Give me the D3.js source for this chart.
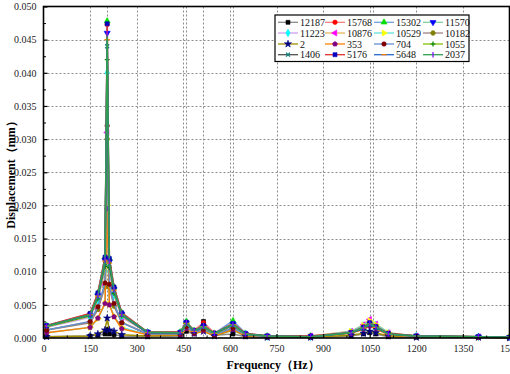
<!DOCTYPE html>
<html>
<head>
<meta charset="utf-8">
<script src="https://cdn.jsdelivr.net/npm/d3@7"></script>
<style>
  body { margin: 0; background: #fff; }
  text { font-family: "Liberation Serif", "Times New Roman", serif; }
</style>
</head>
<body>
<svg width="510" height="374"></svg>
<script>
// frequencies (Hz) shared by every series
var freqs = [10, 150, 175, 198, 205, 212, 227, 252, 335, 440, 460, 485, 515, 550, 610, 650, 720, 860, 990, 1030, 1050, 1070, 1110, 1200, 1400, 1500];

// series names (legend order)
var names = ["12187", "15768", "15302", "11570", "11223", "10876", "10529", "10182",
             "2", "353", "704", "1055", "1406", "5176", "5648", "2037"];

// displacement (mm)
var s12187 = [0.0002,0.0003,0.0004,0.0006,0.0013,0.0006,0.0005,0.0003,0.0002,0.0003,0.0010,0.0006,0.0025,0.0004,0.0006,0.0002,0.0001,0.0001,0.0003,0.0006,0.0008,0.0006,0.0002,0.0001,0.0001,0.0000];
var s15768 = [0.0018,0.0037,0.0066,0.0120,0.0473,0.0118,0.0076,0.0037,0.0009,0.0008,0.0022,0.0012,0.0023,0.0008,0.0020,0.0006,0.0003,0.0003,0.0009,0.0016,0.0022,0.0017,0.0006,0.0003,0.0002,0.0001];
var s15302 = [0.0019,0.0036,0.0068,0.0122,0.0478,0.0120,0.0077,0.0038,0.0009,0.0009,0.0025,0.0011,0.0018,0.0007,0.0026,0.0007,0.0003,0.0003,0.0008,0.0015,0.0021,0.0016,0.0007,0.0003,0.0002,0.0001];
var s11570 = [0.0018,0.0035,0.0064,0.0117,0.0460,0.0115,0.0074,0.0036,0.0009,0.0008,0.0023,0.0010,0.0017,0.0007,0.0021,0.0006,0.0003,0.0002,0.0008,0.0014,0.0020,0.0015,0.0006,0.0003,0.0002,0.0001];
var s11223 = [0.0016,0.0031,0.0056,0.0102,0.0400,0.0100,0.0064,0.0031,0.0008,0.0007,0.0021,0.0010,0.0016,0.0006,0.0019,0.0006,0.0002,0.0002,0.0009,0.0019,0.0026,0.0020,0.0007,0.0003,0.0002,0.0001];
var s10876 = [0.0012,0.0024,0.0044,0.0080,0.0310,0.0078,0.0050,0.0024,0.0006,0.0006,0.0018,0.0009,0.0014,0.0005,0.0016,0.0005,0.0002,0.0003,0.0010,0.0020,0.0028,0.0021,0.0008,0.0003,0.0002,0.0001];
var s10529 = [0.0008,0.0016,0.0029,0.0052,0.0200,0.0051,0.0033,0.0016,0.0005,0.0005,0.0015,0.0008,0.0012,0.0005,0.0014,0.0005,0.0002,0.0002,0.0010,0.0019,0.0026,0.0020,0.0008,0.0002,0.0001,0.0001];
var s10182 = [0.0012,0.0023,0.0043,0.0077,0.0300,0.0076,0.0048,0.0023,0.0006,0.0006,0.0017,0.0008,0.0013,0.0005,0.0015,0.0005,0.0002,0.0002,0.0009,0.0017,0.0023,0.0018,0.0007,0.0002,0.0001,0.0001];
var s2     = [0.0002,0.0003,0.0006,0.0012,0.0030,0.0012,0.0010,0.0005,0.0003,0.0004,0.0016,0.0007,0.0010,0.0003,0.0012,0.0003,0.0001,0.0001,0.0004,0.0007,0.0010,0.0008,0.0003,0.0001,0.0001,0.0000];
var s353   = [0.0008,0.0016,0.0030,0.0052,0.0195,0.0050,0.0032,0.0014,0.0005,0.0005,0.0014,0.0007,0.0011,0.0004,0.0013,0.0004,0.0002,0.0002,0.0007,0.0013,0.0018,0.0014,0.0005,0.0002,0.0001,0.0001];
var s704   = [0.0012,0.0025,0.0047,0.0083,0.0320,0.0081,0.0052,0.0023,0.0006,0.0006,0.0017,0.0008,0.0013,0.0005,0.0015,0.0005,0.0002,0.0002,0.0008,0.0016,0.0022,0.0017,0.0006,0.0002,0.0001,0.0001];
var s1055  = [0.0017,0.0033,0.0059,0.0108,0.0420,0.0106,0.0067,0.0033,0.0008,0.0008,0.0021,0.0010,0.0016,0.0006,0.0019,0.0006,0.0003,0.0002,0.0008,0.0015,0.0021,0.0016,0.0006,0.0003,0.0002,0.0001];
var s1406  = [0.0018,0.0034,0.0062,0.0113,0.0440,0.0111,0.0071,0.0035,0.0008,0.0008,0.0022,0.0010,0.0017,0.0007,0.0020,0.0006,0.0003,0.0002,0.0008,0.0014,0.0020,0.0015,0.0006,0.0003,0.0002,0.0001];
var s5176  = [0.0019,0.0037,0.0068,0.0122,0.0474,0.0120,0.0077,0.0038,0.0009,0.0009,0.0024,0.0011,0.0019,0.0007,0.0022,0.0007,0.0003,0.0003,0.0008,0.0016,0.0023,0.0017,0.0007,0.0003,0.0002,0.0001];
var s5648  = [0.0018,0.0035,0.0063,0.0116,0.0450,0.0113,0.0072,0.0035,0.0008,0.0008,0.0022,0.0010,0.0017,0.0007,0.0020,0.0006,0.0003,0.0002,0.0008,0.0015,0.0021,0.0016,0.0006,0.0003,0.0002,0.0001];
var s2037  = [0.0018,0.0035,0.0064,0.0118,0.0459,0.0116,0.0073,0.0036,0.0009,0.0008,0.0023,0.0011,0.0018,0.0007,0.0021,0.0006,0.0003,0.0002,0.0008,0.0016,0.0022,0.0017,0.0006,0.0003,0.0002,0.0001];

var values = [s12187, s15768, s15302, s11570, s11223, s10876, s10529, s10182,
              s2, s353, s704, s1055, s1406, s5176, s5648, s2037];

// extra vertical reference lines (Hz)
var refLines = [205, 460, 515, 610, 1060];

var xTicks = [0, 150, 300, 450, 600, 750, 900, 1050, 1200, 1350, 1500];
var yTicks = [0, 0.005, 0.010, 0.015, 0.020, 0.025, 0.030, 0.035, 0.040, 0.045, 0.050];

// styling (Origin-like line / symbol colours)
var lineColors = ["#8a8a8a", "#f08080", "#70a0e0", "#80d0a0", "#d0a0f0", "#e8b460", "#60e0d8", "#a08080",
                  "#a09000", "#ff8000", "#6090d0", "#80c000", "#505050", "#e03030", "#2468d0", "#30a050"];
var markColors = ["#000000", "#ff0000", "#00e000", "#0000ff", "#00ffff", "#ff00ff", "#ffff00", "#808000",
                  "#000080", "#800080", "#800000", "#008000", "#008080", "#0000c0", "#ff8000", "#8000ff"];

function poly(n, rot) {
  return { draw: function(ctx, size) {
    var r = Math.sqrt(size / (n * 0.5 * Math.sin(2 * Math.PI / n)));
    for (var i = 0; i < n; i++) {
      var a = rot + i * 2 * Math.PI / n;
      if (i === 0) ctx.moveTo(r * Math.cos(a), r * Math.sin(a));
      else ctx.lineTo(r * Math.cos(a), r * Math.sin(a));
    }
    ctx.closePath();
  }};
}
var dash = { draw: function(ctx, size) { var r = Math.sqrt(size) / 2; ctx.moveTo(-r * 1.4, 0); ctx.lineTo(r * 1.4, 0); } };
var vbar = { draw: function(ctx, size) { var r = Math.sqrt(size) / 2; ctx.moveTo(0, -r * 1.4); ctx.lineTo(0, r * 1.4); } };
var cross = { draw: function(ctx, size) { var r = Math.sqrt(size) / 2; ctx.moveTo(-r, -r); ctx.lineTo(r, r); ctx.moveTo(-r, r); ctx.lineTo(r, -r); } };
var plus = { draw: function(ctx, size) { var r = Math.sqrt(size) / 2 * 1.2; ctx.moveTo(-r, 0); ctx.lineTo(r, 0); ctx.moveTo(0, -r); ctx.lineTo(0, r); } };

var shapes = [d3.symbolSquare, d3.symbolCircle, poly(3, -Math.PI / 2), poly(3, Math.PI / 2),
              d3.symbolDiamond, poly(3, Math.PI), poly(3, 0), poly(6, 0),
              d3.symbolStar, poly(5, -Math.PI / 2), d3.symbolCircle, plus,
              cross, d3.symbolSquare, dash, vbar];
var strokeOnly = [false, false, false, false, false, false, false, false,
                  false, false, false, true, true, false, true, true];

var svg = d3.select("svg");
var margin = {left: 43.5, right: 509.5, top: 6.5, bottom: 338};

var x = d3.scaleLinear().domain([0, 1500]).range([margin.left, margin.right]);
var y = d3.scaleLinear().domain([0, 0.05]).range([margin.bottom, margin.top]);

// grid
var grid = svg.append("g").attr("stroke", "#8c8c8c").attr("stroke-width", 1).attr("stroke-dasharray", "2,2");
grid.selectAll("line.h").data(yTicks.slice(1, -1)).enter().append("line")
  .attr("x1", margin.left).attr("x2", margin.right)
  .attr("y1", function(d){ return Math.round(y(d)) + 0.5 }).attr("y2", function(d){ return Math.round(y(d)) + 0.5 });
grid.selectAll("line.v").data(xTicks.slice(1, -1).concat(refLines)).enter().append("line")
  .attr("y1", margin.top).attr("y2", margin.bottom)
  .attr("x1", function(d){ return Math.round(x(d)) + 0.5 }).attr("x2", function(d){ return Math.round(x(d)) + 0.5 });

// series
var line = d3.line().x(function(d){ return x(d[0]) }).y(function(d){ return y(d[1]) });
values.forEach(function(vals, i) {
  var pts = freqs.map(function(f, j){ return [f, vals[j]] });
  var g = svg.append("g");
  g.append("path").datum(pts).attr("d", line)
    .attr("fill", "none").attr("stroke", lineColors[i]).attr("stroke-width", 1.5);
  g.selectAll("path.m").data(pts).enter().append("path")
    .attr("transform", function(d){ return "translate(" + x(d[0]) + "," + y(d[1]) + ")" })
    .attr("d", d3.symbol().type(shapes[i]).size(16))
    .attr("fill", strokeOnly[i] ? "none" : markColors[i])
    .attr("stroke", markColors[i]).attr("stroke-width", strokeOnly[i] ? 1.2 : 0.6);
});

// axes (ticks inward)
var xAxis = d3.axisBottom(x).tickValues(xTicks).tickSizeInner(-4).tickSizeOuter(0).tickPadding(7).tickFormat(d3.format("d"));
var gx = svg.append("g").attr("transform", "translate(0," + margin.bottom + ")").call(xAxis);
gx.select(".domain").remove();
gx.selectAll("line").attr("stroke-width", 1.2);
gx.selectAll("text").attr("font-size", 10).attr("fill", "#222").style("font-family", "Liberation Serif, serif");
svg.append("g").attr("transform", "translate(0," + margin.bottom + ")")
  .call(d3.axisBottom(x).tickValues(d3.range(75, 1500, 150)).tickSizeInner(-2.5).tickSizeOuter(0).tickFormat(""))
  .select(".domain").remove();

var yAxis = d3.axisLeft(y).tickValues(yTicks).tickSizeInner(-4).tickSizeOuter(0).tickPadding(7).tickFormat(d3.format(".3f"));
var gy = svg.append("g").attr("transform", "translate(" + margin.left + ",0)").call(yAxis);
gy.select(".domain").remove();
gy.selectAll("line").attr("stroke-width", 1.2);
gy.selectAll("text").attr("font-size", 10).attr("fill", "#222").style("font-family", "Liberation Serif, serif");
svg.append("g").attr("transform", "translate(" + margin.left + ",0)")
  .call(d3.axisLeft(y).tickValues(d3.range(0.0025, 0.05, 0.005)).tickSizeInner(-2.5).tickSizeOuter(0).tickFormat(""))
  .select(".domain").remove();

// frame
svg.append("rect").attr("x", margin.left).attr("y", margin.top)
  .attr("width", margin.right - margin.left).attr("height", margin.bottom - margin.top)
  .attr("fill", "none").attr("stroke", "#000").attr("stroke-width", 1.6);

// axis titles
svg.append("text").attr("x", 273).attr("y", 369).attr("text-anchor", "middle")
  .attr("font-size", 12).attr("font-weight", "bold").text("Frequency（Hz）");
svg.append("text").attr("transform", "translate(15,172) rotate(-90)").attr("text-anchor", "middle")
  .attr("font-size", 12).attr("font-weight", "bold").text("Displacement（mm）");

// legend
var legX = [278, 325, 374, 423], legY = [22.3, 33, 44, 54.7];
var leg = svg.append("g");
leg.append("rect").attr("x", 275).attr("y", 15).attr("width", 194).attr("height", 46.5)
  .attr("fill", "#fff").attr("stroke", "#000").attr("stroke-width", 1.2);
names.forEach(function(n, i) {
  var lx = legX[i % 4], ly = legY[Math.floor(i / 4)];
  var e = leg.append("g");
  e.append("line").attr("x1", lx).attr("x2", lx + 20).attr("y1", ly).attr("y2", ly)
    .attr("stroke", lineColors[i]).attr("stroke-width", 1.3);
  e.append("path").attr("transform", "translate(" + (lx + 10) + "," + ly + ")")
    .attr("d", d3.symbol().type(shapes[i]).size(16))
    .attr("fill", strokeOnly[i] ? "none" : markColors[i])
    .attr("stroke", markColors[i]).attr("stroke-width", strokeOnly[i] ? 1.2 : 0.6);
  e.append("text").attr("x", lx + 22).attr("y", ly).attr("dy", "0.35em")
    .attr("font-size", 10).attr("fill", "#111").text(n);
});
</script>
</body>
</html>
